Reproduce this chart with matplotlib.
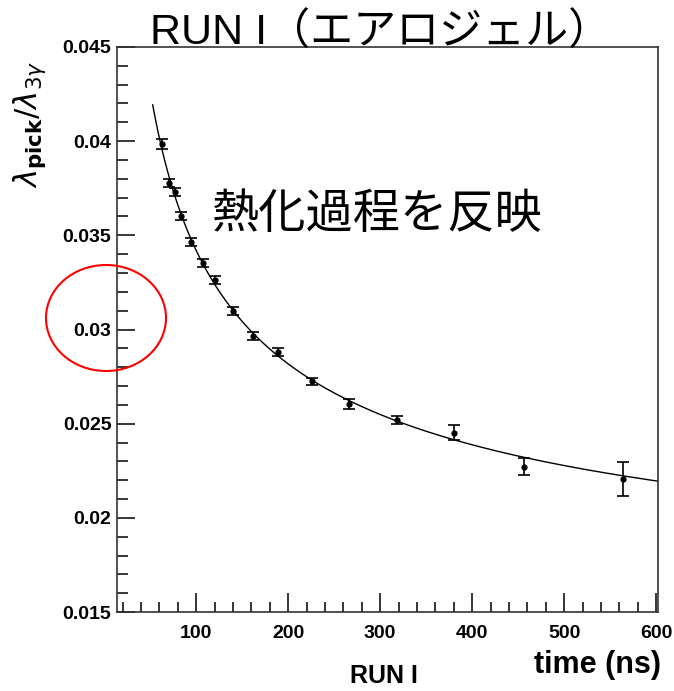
import numpy as np
import matplotlib
matplotlib.use("Agg")
import matplotlib.pyplot as plt
from matplotlib.patches import Ellipse
from matplotlib.ticker import MultipleLocator

# 測定点 (読み取り値)
time_ns = [62.6, 71, 76.7, 84, 94, 107, 120, 139.6, 162, 189.5, 226, 266, 318.5, 380, 456.8, 563.7]
ratio = [0.03985, 0.03778, 0.0373, 0.03603, 0.03464, 0.03353, 0.03263, 0.03098,
         0.02965, 0.0288, 0.02726, 0.02604, 0.0252, 0.02453, 0.02272, 0.02207]
ratio_err = [0.00025, 0.0002, 0.0002, 0.0002, 0.0002, 0.0002, 0.0002, 0.0002,
             0.0002, 0.0002, 0.00019, 0.00028, 0.00022, 0.00039, 0.00047, 0.0009]
fit_range = [52.8, 602]

plt.rcParams['font.family'] = ['Liberation Sans', 'Noto Sans CJK JP', 'DejaVu Sans']

fig = plt.figure(figsize=(6.74, 6.91), dpi=100)
ax = fig.add_axes([0.1736, 0.1143, 0.8027, 0.8177])

# フィット曲線 (log-log 2次)
t = np.array(time_ns)
r = np.array(ratio)
w = 1.0 / np.array(ratio_err)
coef = np.polyfit(np.log(t), np.log(r), 2, w=w * r)
xf = np.linspace(fit_range[0], fit_range[1], 400)
ax.plot(xf, np.exp(np.polyval(coef, np.log(xf))), color='black', lw=1.0)

ax.errorbar(time_ns, ratio, yerr=ratio_err, fmt='o', color='black', ms=3.5,
            elinewidth=1.2, capsize=4, capthick=1.2)

ax.set_xlim(14, 602)
ax.set_ylim(0.015, 0.045)
ax.xaxis.set_major_locator(MultipleLocator(100))
ax.xaxis.set_minor_locator(MultipleLocator(20))
ax.yaxis.set_major_locator(MultipleLocator(0.005))
ax.yaxis.set_minor_locator(MultipleLocator(0.001))
ax.set_yticks([0.015, 0.02, 0.025, 0.03, 0.035, 0.04, 0.045])
ax.set_yticklabels(['0.015', '0.02', '0.025', '0.03', '0.035', '0.04', '0.045'])
ax.set_xticks([100, 200, 300, 400, 500, 600])
ax.tick_params(which='both', direction='in', top=False, right=False)
ax.tick_params(axis='y', which='major', length=13, width=1.1, pad=4, labelsize=14)
ax.tick_params(axis='y', which='minor', length=8, width=1.1)
ax.tick_params(axis='x', which='major', length=14, width=1.1, pad=9, labelsize=14)
ax.tick_params(axis='x', which='minor', length=7, width=1.1)
for lab in ax.get_xticklabels() + ax.get_yticklabels():
    lab.set_fontweight('bold')
for s in ax.spines.values():
    s.set_linewidth(1.2)
    s.set_color('#333333')

fig.text(0.565, 0.952, 'RUN I（エアロジェル）', ha='center', va='center', fontsize=31)
ax.text(0.479, 0.703, '熱化過程を反映', transform=ax.transAxes, ha='center', va='center',
        fontsize=34, family=['Noto Sans CJK JP'])
fig.text(0.045, 0.82, r'$\lambda_{\mathbf{pick}}/\lambda_{3\gamma}$', rotation=90,
         ha='center', va='center', fontsize=22)
fig.text(0.98, 0.038, 'time (ns)', ha='right', va='center', fontsize=22, fontweight='bold')
fig.text(0.57, 0.022, 'RUN I', ha='center', va='center', fontsize=18, fontweight='bold')

fig.patches.append(Ellipse((106 / 674, 1 - 318 / 691), 120 / 674, 106 / 691,
                           transform=fig.transFigure, fill=False, edgecolor='red', lw=1.5))

fig.savefig('out.png', dpi=100)
